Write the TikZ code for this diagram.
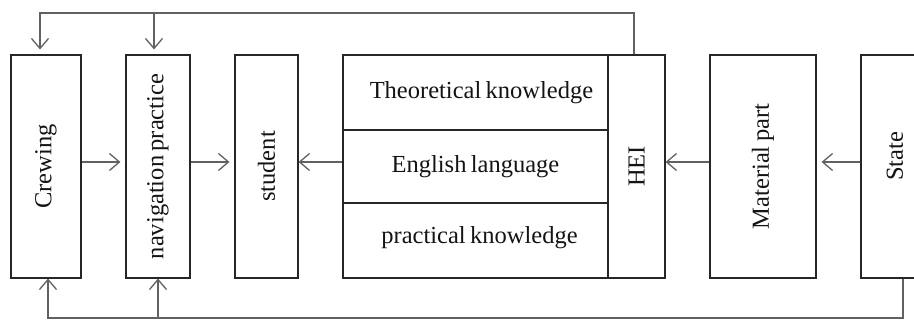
\documentclass[tikz,border=0pt]{standalone}
\usepackage{fontspec}
\usepackage{graphicx}
\setmainfont{Liberation Serif}
\usetikzlibrary{arrows.meta}
\newcommand{\diagfont}{\fontsize{24.5}{28}\selectfont\spaceskip=0.18em\relax}
\begin{document}
\begin{tikzpicture}[x=1pt,y=-1pt,
  box/.style={draw=black!85,line width=1.1pt,inner sep=0pt,font=\diagfont,text=black!92},
  conn/.style={draw=black!62,line width=1.4pt,-{Straight Barb[length=10pt,width=17pt,line width=1.3pt]}},
  wire/.style={draw=black!62,line width=1.4pt}]
\useasboundingbox (0,0) rectangle (914,320);
% boxes
\node[box,minimum width=70pt,minimum height=223pt] (crew) at (46,166.5) {\rotatebox{90}{Crewing}};
\node[box,minimum width=64pt,minimum height=223pt] (nav) at (158,166.5) {\rotatebox{90}{navigation practice}};
\node[box,minimum width=63pt,minimum height=223pt] (stud) at (266.5,166.5) {\rotatebox{90}{student}};
\node[box,minimum width=265pt,minimum height=75pt] (k1) at (475.5,92.5) {\hspace{12pt}Theoretical knowledge};
\node[box,minimum width=265pt,minimum height=73pt] (k2) at (475.5,166.5) {English language};
\node[box,minimum width=265pt,minimum height=75pt] (k3) at (475.5,240.5) {\hspace{8pt}practical knowledge\raisebox{0pt}[0pt][10pt]{}};
\node[box,minimum width=57pt,minimum height=223pt] (hei) at (636.5,166.5) {\rotatebox{90}{HEI}};
\node[box,minimum width=106pt,minimum height=223pt] (mat) at (763,166.5) {\rotatebox{90}{Material part}};
\node[box,minimum width=68pt,minimum height=223pt] (state) at (895,166.5) {\rotatebox{90}{\hspace{20pt}State}};
% horizontal arrows
\coordinate (ay) at (0,162);
\draw[conn,shorten >=5pt] (crew.east |- ay) -- (nav.west |- ay);
\draw[conn,shorten >=5pt] (nav.east |- ay) -- (stud.west |- ay);
\draw[conn] (k2.west |- ay) -- (stud.east |- ay);
\draw[conn] (mat.west |- ay) -- (hei.east |- ay);
\draw[conn,shorten >=5pt] (state.west |- ay) -- (mat.east |- ay);
% top feedback
\coordinate (topL) at (40,13);
\coordinate (topN) at (154,13);
\draw[conn,shorten >=5pt] ([xshift=-2.5pt]hei.north) |- (topL) -- (topL |- crew.north);
\draw[conn,shorten >=5pt] (topN) -- (topN |- nav.north);
% bottom feedback
\coordinate (botL) at (48,318);
\coordinate (botN) at (158,318);
\draw[conn] ([xshift=8pt]state.south) |- (botL) -- (botL |- crew.south);
\draw[conn] (botN) -- (botN |- nav.south);
\end{tikzpicture}
\end{document}
